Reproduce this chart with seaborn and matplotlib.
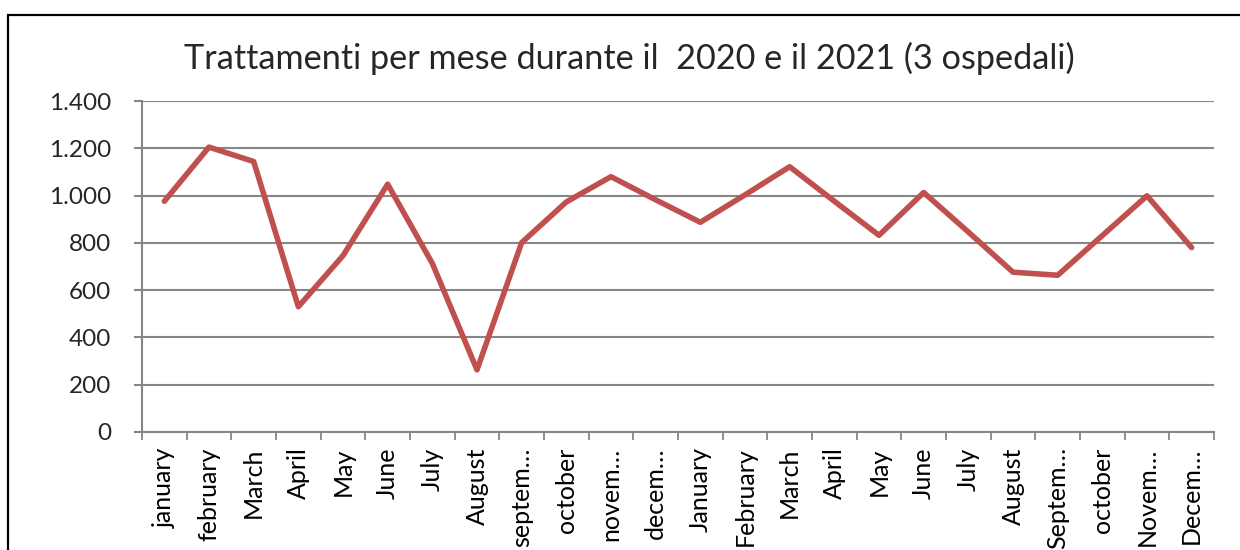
import numpy as np
import pandas as pd
import seaborn as sns
from matplotlib import pyplot as plt
from matplotlib.patches import Rectangle
from matplotlib.ticker import FuncFormatter, FixedLocator

# month labels as shown on the axis (Excel truncates the long ones)
months = ['january', 'february', 'March', 'April', 'May', 'June', 'July', 'August',
          'septem…', 'october', 'novem…', 'decem…',
          'January', 'February', 'March', 'April', 'May', 'June', 'July', 'August',
          'Septem…', 'october', 'Novem…', 'Decem…']
treatments = [976, 1205, 1144, 530, 746, 1048, 713, 263, 801, 973, 1080, 982,
              887, 1003, 1122, 976, 832, 1013, 846, 676, 663, 831, 999, 780]
title = 'Trattamenti per mese durante il  2020 e il 2021 (3 ospedali)'

df = pd.DataFrame({'idx': np.arange(len(months)), 'month': months, 'value': treatments})

sns.set_theme(style='white')
plt.rcParams['font.family'] = ['Lato', 'DejaVu Sans']

fig = plt.figure(figsize=(12.4, 5.5), dpi=100)
ax = fig.add_axes([142 / 1240, 1 - 432 / 550, (1214 - 142) / 1240, (432 - 101) / 550])

sns.lineplot(data=df, x='idx', y='value', ax=ax, color='#C0504D', linewidth=4)

grid_c = '#868686'
ax.set_ylim(0, 1400)
ax.set_xlim(-0.5, len(months) - 0.5)
ax.set_yticks(np.arange(0, 1401, 200))
ax.yaxis.set_major_formatter(FuncFormatter(lambda v, p: f'{v:,.0f}'.replace(',', '.')))
ax.yaxis.grid(True, color=grid_c, linewidth=1.5)
ax.set_axisbelow(True)

ax.set_xticks(df['idx'])
ax.set_xticklabels(df['month'], rotation=90, va='top', ha='center', fontsize=18)
ax.xaxis.set_minor_locator(FixedLocator(np.arange(-0.5, len(months), 1)))
ax.tick_params(axis='x', which='major', length=0, pad=11, colors='black')
ax.tick_params(axis='x', which='minor', length=6, width=1.3, color=grid_c, direction='out', bottom=True)
ax.tick_params(axis='y', length=6, width=1.5, color=grid_c, pad=16, labelsize=17.5, left=True)

for s in ['top', 'right']:
    ax.spines[s].set_visible(False)
for s in ['left', 'bottom']:
    ax.spines[s].set_color(grid_c)
    ax.spines[s].set_linewidth(1.5)

ax.set_xlabel('')
ax.set_ylabel('')

fig.text(629 / 1240, 1 - 58 / 550, title, ha='center', va='center', fontsize=24.7)

# chart frame
fig.patches.append(Rectangle((8 / 1240, -0.1), 1.2, 1 - 15 / 550 + 0.1, transform=fig.transFigure,
                             fill=False, edgecolor='black', linewidth=1.6))

fig.savefig('out.png', dpi=100)
